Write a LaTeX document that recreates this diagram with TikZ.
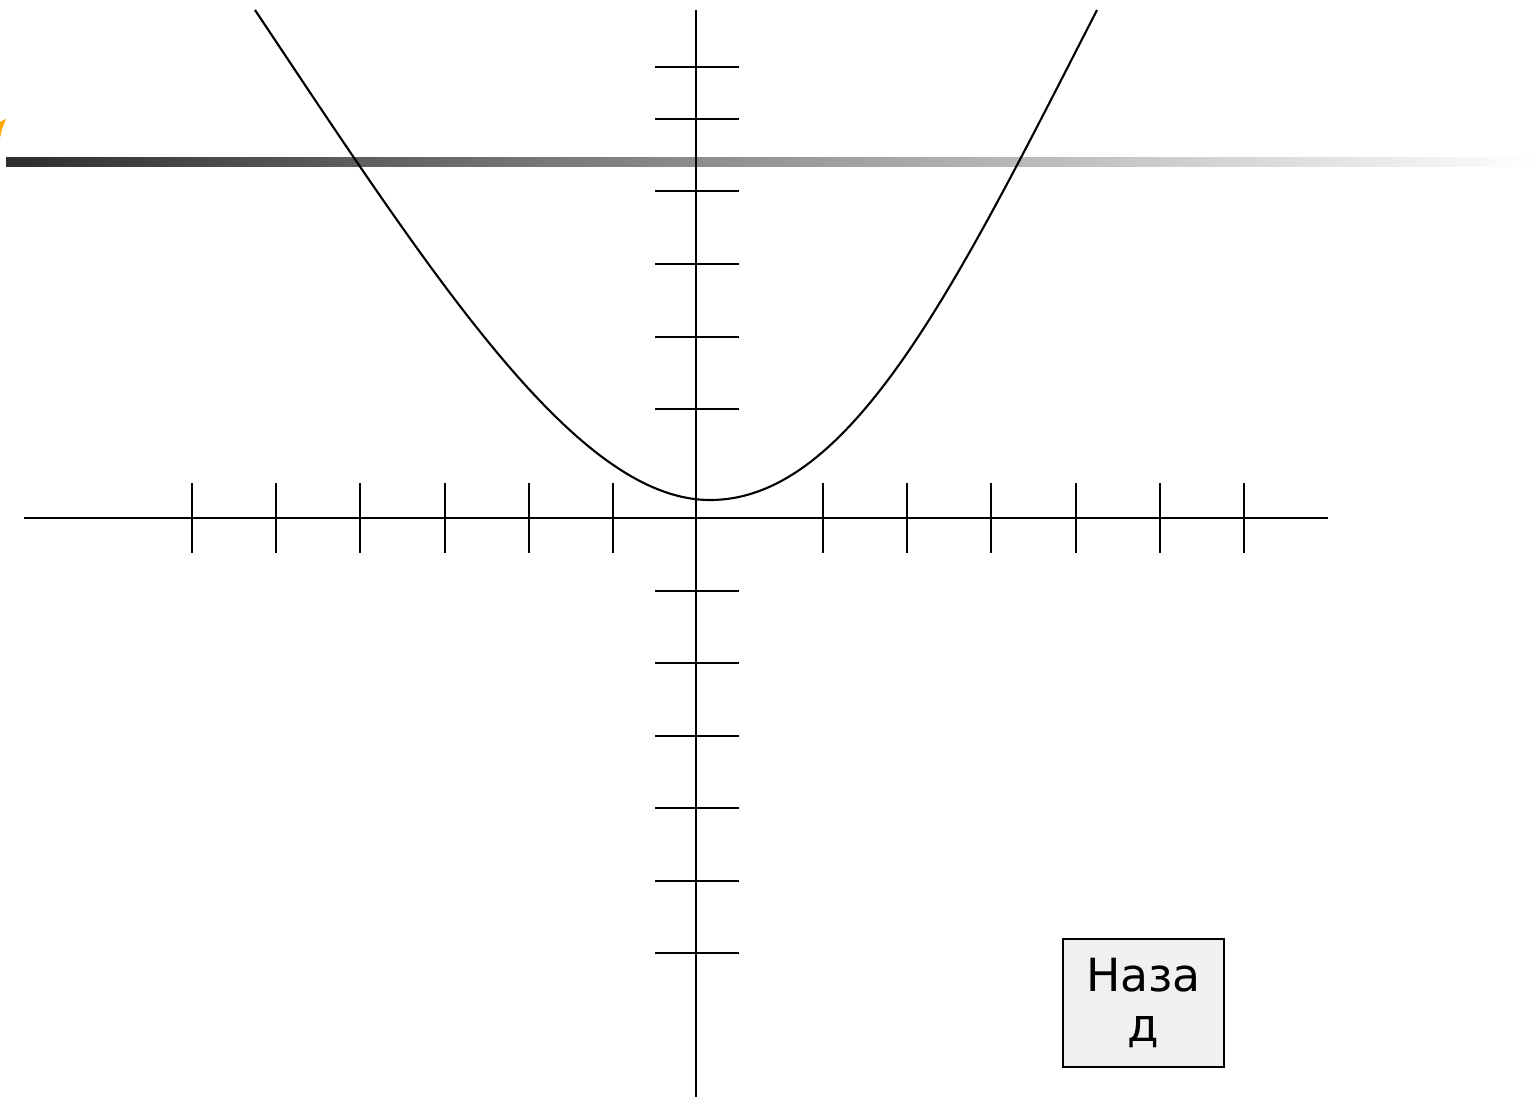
\documentclass[tikz,border=0pt]{standalone}
\usepackage{fontspec}
\setmainfont{DejaVu Sans}
\usetikzlibrary{positioning}

\begin{document}
\begin{tikzpicture}[x=0.01cm, y=-0.01cm,
    axis/.style={line width=0.6pt, black},
    tick/.style={line width=0.6pt, black},
    curve/.style={line width=0.6pt, black},
    button/.style={rectangle, draw=black, line width=0.5pt, fill=gray!12, minimum width=1.61cm, minimum height=1.28cm, align=center, font=\fontsize{13}{14}\selectfont, inner sep=0pt}]
\useasboundingbox (0,0) rectangle (1537,1097);
% title bar
\shade[left color=black!82, right color=white] (6,158) rectangle (1537,167);
\fill[orange!70!yellow] (0,122) -- (6,119) -- (2,129) -- (0,138) -- cycle;
% axes
\coordinate (xl) at (24,518);
\coordinate (xr) at (1328,518);
\coordinate (yt) at (696,10);
\coordinate (yb) at (696,1097);
\draw[axis] (xl) -- (xr);
\draw[axis] (yt) -- (yb);
\foreach \x in {192,276,360,445,529,613,823,907,991,1076,1160,1244}
    \draw[tick] (\x,483) -- (\x,553);
\foreach \y in {67,119,191,264,337,409,591,663,736,808,881,953}
    \draw[tick] (655,\y) -- (739,\y);
% curve
\coordinate (cl) at (255,10);
\coordinate (cv) at (710,500);
\coordinate (cr) at (1097,10);
\draw[curve] (cl) .. controls (435,280) and (577,500) .. (cv)
    .. controls (852.5,500) and (958.5,280) .. (cr);
% back button
\node[button] (back) at (1143.5,1003) {Наза\\д};
\end{tikzpicture}
\end{document}
